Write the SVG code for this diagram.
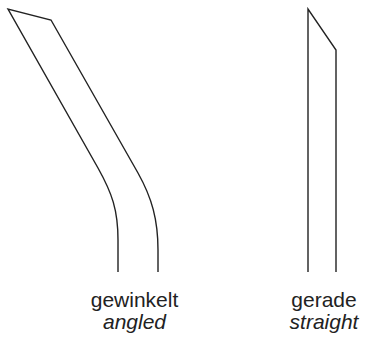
<svg xmlns="http://www.w3.org/2000/svg" width="365" height="342" viewBox="0 0 365 342">
<style>
.ln{fill:none;stroke:#222;stroke-width:1.4;stroke-linejoin:miter}
.t{font-family:"Liberation Sans",Arial,sans-serif;font-size:21px;fill:#222;text-anchor:middle}
.i{font-style:italic}
</style>
<rect width="365" height="342" fill="#fff"/>
<g id="angled">
<path class="ln" d="M118,272 V240 C118,210 112,193 98,168 L8,9 L51,20 L138,173 C152,198 158,220 158,250 V272"/>
<text class="t" x="134.5" y="307">gewinkelt</text>
<text class="t i" x="134.5" y="329">angled</text>
</g>
<g id="straight">
<path class="ln" d="M308,272 V9 L336,50 V272"/>
<text class="t" x="324" y="307">gerade</text>
<text class="t i" x="324" y="329">straight</text>
</g>
</svg>
